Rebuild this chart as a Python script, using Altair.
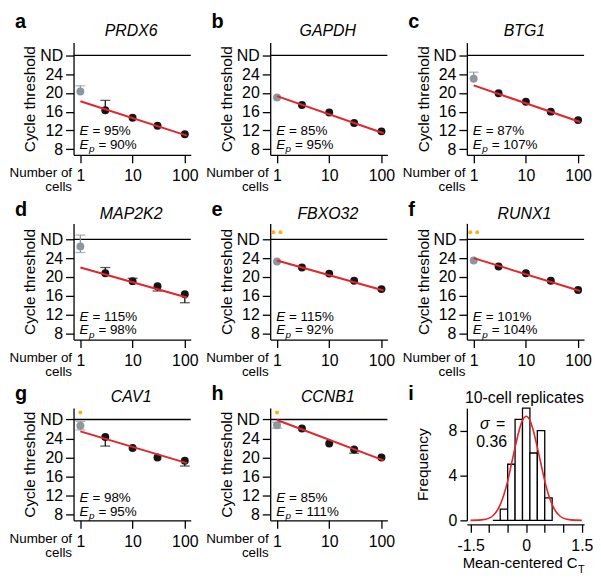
import altair as alt
import pandas as pd

FONT = "Liberation Sans"
BLACK = "#151515"
GREY = "#8d979d"
RED = "#e2252b"
ORANGE = "#f5b21a"

# ---------------- data ----------------
cells = [1, 3, 10, 30, 100]
panel_letters = ["a", "b", "c", "d", "e", "f", "g", "h"]
genes = ["PRDX6", "GAPDH", "BTG1", "MAP2K2", "FBXO32", "RUNX1", "CAV1", "CCNB1"]
ct_mean = [
    [20.3, 16.3, 14.7, 13.0, 11.2],
    [19.0, 17.4, 15.8, 13.6, 11.8],
    [23.0, 19.9, 18.1, 16.0, 14.2],
    [26.5, 20.8, 19.1, 18.0, 16.3],
    [23.3, 22.0, 20.7, 19.2, 17.4],
    [23.5, 22.2, 20.8, 19.2, 17.2],
    [26.7, 24.3, 22.0, 20.0, 19.3],
    [26.8, 26.1, 22.95, 21.7, 20.0],
]
ct_err_low = [
    [20.3, 16.3, 14.7, 13.0, 11.2],
    [19.0, 17.4, 15.8, 13.6, 11.8],
    [23.0, 19.9, 18.1, 16.0, 14.2],
    [25.2, 20.8, 19.1, 17.0, 14.5],
    [23.3, 22.0, 20.7, 19.2, 17.4],
    [23.5, 22.2, 20.8, 19.2, 17.2],
    [25.8, 22.4, 22.0, 20.0, 18.2],
    [26.2, 26.1, 22.95, 20.9, 20.0],
]
ct_err_high = [
    [21.5, 18.4, 14.7, 13.0, 11.2],
    [19.0, 17.4, 15.8, 13.6, 11.8],
    [24.4, 19.9, 18.1, 16.0, 14.2],
    [28.9, 22.0, 19.7, 18.0, 16.3],
    [23.3, 22.0, 20.7, 19.2, 17.4],
    [23.5, 22.2, 20.8, 19.2, 17.2],
    [27.6, 24.3, 22.0, 20.0, 19.3],
    [27.4, 26.1, 22.95, 21.7, 20.0],
]
fit_cells = [1, 110]
fit_ct = [
    [18.2, 10.9], [19.3, 11.4], [21.6, 13.8], [22.0, 15.6],
    [23.5, 17.1], [24.0, 17.0], [25.5, 18.8], [27.9, 19.4],
]
eff_E = ["95%", "85%", "87%", "115%", "115%", "101%", "98%", "85%"]
eff_Ep = ["90%", "95%", "107%", "98%", "92%", "104%", "95%", "111%"]
nd_count = [0, 0, 0, 0, 2, 2, 1, 1]
nd_level = 28
nd_marker_ct = 29.5
ct_ticks = [8, 12, 16, 20, 24, 28]
cell_ticks = [1, 10, 100]

hist_bin_start = [-0.9, -0.7, -0.5, -0.3, -0.1, 0.1, 0.3, 0.5]
hist_counts = [0, 1, 5, 9, 10, 6, 8, 2]
hist_bin_width = 0.2
gauss_x = [-1.5, -1.2, -1.0, -0.9, -0.8, -0.7, -0.6, -0.5, -0.4, -0.3, -0.2, -0.1, 0.0,
           0.1, 0.2, 0.3, 0.4, 0.5, 0.6, 0.7, 0.8, 0.9, 1.0, 1.2, 1.5]
gauss_y = [0.0, 0.04, 0.2, 0.41, 0.79, 1.4, 2.3, 3.5, 5.0, 6.5, 7.9, 8.9, 9.27,
           8.9, 7.9, 6.5, 5.0, 3.5, 2.3, 1.4, 0.79, 0.41, 0.2, 0.04, 0.0]
hist_ticks = [-1.5, -1.0, -0.5, 0.0, 0.5, 1.0, 1.5]
freq_ticks = [0, 4, 8]
sigma_value = "0.36"

# ---------------- layout ----------------
W = 118
row_h = [113, 117, 113]
y_domains = [[6.8, 30.7], [6.65, 31.4], [6.75, 30.4]]
letter_y = [-15, -7, -8]
gene_y = [-6.7, -4, -6.3]
e_line_from_bottom = [(-24.3, -10), (-23.2, -9.2), (-22.5, -8.5)]


def txt(s, x, y, size=14, align="left", baseline="alphabetic", style="normal",
        weight="normal", color="black"):
    return alt.Chart(pd.DataFrame({"t": [s]})).mark_text(
        align=align, baseline=baseline, font=FONT, fontSize=size,
        fontStyle=style, fontWeight=weight, color=color,
    ).encode(text="t:N", x=alt.value(x), y=alt.value(y))


def ct_panel(k):
    row = k // 3
    h = row_h[row]
    X = alt.X("cells:Q",
              scale=alt.Scale(type="log", domain=[0.74, 130], nice=False),
              axis=alt.Axis(values=cell_ticks, format="d", title=["Number of", "cells"],
                            titleAlign="right", titleX=-2, titleY=22,
                            titleBaseline="alphabetic", titleFontSize=13.5,
                            titleLineHeight=14, tickSize=8, labelPadding=5))
    Y = alt.Y("ct:Q",
              scale=alt.Scale(domain=y_domains[row], nice=False),
              axis=alt.Axis(values=ct_ticks,
                            labelExpr=f"datum.value == {nd_level} ? 'ND' : datum.label",
                            title="Cycle threshold", titleFontSize=15.5,
                            titlePadding=2, tickSize=8, labelPadding=3))
    grp = ["single"] + ["multi"] * 4
    C = alt.Color("grp:N", scale=alt.Scale(domain=["single", "multi"], range=[GREY, BLACK]),
                  legend=None)

    pts = pd.DataFrame({"cells": cells, "ct": ct_mean[k], "grp": grp})
    bars = pd.DataFrame({"cells": cells, "ct": ct_err_low[k], "ct2": ct_err_high[k], "grp": grp})
    caps_rows = []
    for c, m, lo, hi, g in zip(cells, ct_mean[k], ct_err_low[k], ct_err_high[k], grp):
        if lo < m:
            caps_rows.append({"cells": c, "ct": lo, "grp": g})
        if hi > m:
            caps_rows.append({"cells": c, "ct": hi, "grp": g})
    caps = pd.DataFrame(caps_rows if caps_rows else [{"cells": 1, "ct": -100, "grp": "multi"}])
    fit = pd.DataFrame({"cells": fit_cells, "ct": fit_ct[k]})

    layers = []
    layers.append(alt.Chart(pd.DataFrame({"ct": [nd_level]})).mark_rule(
        color="black", strokeWidth=1.3).encode(y=Y, x=alt.value(0), x2=alt.value(W)))
    layers.append(alt.Chart(bars).mark_rule(strokeWidth=1.3).encode(x=X, y=Y, y2="ct2:Q", color=C))
    layers.append(alt.Chart(caps).mark_tick(orient="horizontal", size=10, thickness=1.3).encode(
        x=X, y=Y, color=C))
    layers.append(alt.Chart(pts).mark_circle(size=64, opacity=1).encode(x=X, y=Y, color=C))
    layers.append(alt.Chart(fit).mark_line(color=RED, strokeWidth=2).encode(x=X, y=Y))
    n = nd_count[k]
    if n:
        offs = [0] if n == 1 else [-3.5, 3.5]
        for o in offs:
            layers.append(alt.Chart(pd.DataFrame({"cells": [1], "ct": [nd_marker_ct]})).mark_circle(
                size=16, opacity=1, color=ORANGE, xOffset=o).encode(x=X, y=Y))

    # annotations
    layers.append(txt(panel_letters[k], -59, letter_y[row], size=20, weight="bold"))
    layers.append(txt(genes[k], 58, gene_y[row], size=16, align="center", style="italic"))
    l1, l2 = e_line_from_bottom[row]
    layers.append(txt("E", 6, h + l1, size=13.5, baseline="middle", style="italic"))
    layers.append(txt("= " + eff_E[k], 19, h + l1, size=13.5, baseline="middle"))
    layers.append(txt("E", 6, h + l2, size=13.5, baseline="middle", style="italic"))
    layers.append(txt("p", 15.5, h + l2 + 4.5, size=10, baseline="middle", style="italic"))
    layers.append(txt("= " + eff_Ep[k], 25, h + l2, size=13.5, baseline="middle"))
    if k == 0:
        layers.append(alt.Chart(pd.DataFrame({"t": [0]})).mark_rect(opacity=0).encode(
            x=alt.value(-64), x2=alt.value(0), y=alt.value(-32), y2=alt.value(0)))
    return alt.layer(*layers).properties(width=W, height=h)


def hist_panel():
    h = row_h[2]
    X = alt.X("x:Q", scale=alt.Scale(domain=[-1.6, 1.56], nice=False, zero=False),
              axis=alt.Axis(values=hist_ticks,
                            labelExpr="datum.value == -1.5 ? '-1.5' : datum.value == 0 ? '0' : datum.value == 1.5 ? '1.5' : ''",
                            offset=4, tickSize=8, labelPadding=5,
                            title="Mean-centered C", titleAlign="right", titleX=111,
                            titleY=43, titleBaseline="alphabetic", titleFontSize=15))
    Y = alt.Y("y:Q", scale=alt.Scale(domain=[0, 10], nice=False),
              axis=alt.Axis(values=freq_ticks, tickSize=7, labelPadding=3,
                            title="Frequency", titleFontSize=15.5, titlePadding=18))
    hist = pd.DataFrame({"x": hist_bin_start, "y": hist_counts})
    gauss = pd.DataFrame({"x": gauss_x, "y": gauss_y})
    bars = alt.Chart(hist).transform_calculate(x2=f"datum.x + {hist_bin_width}").mark_rect(
        fill="white", stroke="black", strokeWidth=1.3).encode(x=X, x2="x2:Q", y=Y, y2=alt.datum(0))
    curve = alt.Chart(gauss).mark_line(color=RED, strokeWidth=1.6, interpolate="monotone").encode(x=X, y=Y)
    layers = [bars, curve,
              txt("i", -59, letter_y[2], size=20, weight="bold"),
              txt("10-cell replicates", 58, -4.7, size=16, align="center"),
              txt("σ", 18, 16.3, size=16, align="center", baseline="middle", style="italic"),
              txt("=", 34, 16.3, size=16, align="center", baseline="middle"),
              txt(sigma_value, 25, 34, size=16, align="center", baseline="middle"),
              txt("T", 112, 166, size=11)]
    return alt.layer(*layers).properties(width=W, height=h)


charts = [ct_panel(k) for k in range(8)] + [hist_panel()]

chart = alt.concat(*charts, columns=3, spacing={"row": 69, "column": 80}, bounds="flush").properties(
    padding=0
).configure_view(strokeWidth=0).configure_axis(
    grid=False, domainColor="black", domainWidth=1.3, tickColor="black", tickWidth=1.3,
    labelFont=FONT, labelFontSize=16, labelColor="black",
    titleFont=FONT, titleFontWeight="normal", titleColor="black",
)

chart.save("out.html", embed_options={"renderer": "svg", "actions": False})
